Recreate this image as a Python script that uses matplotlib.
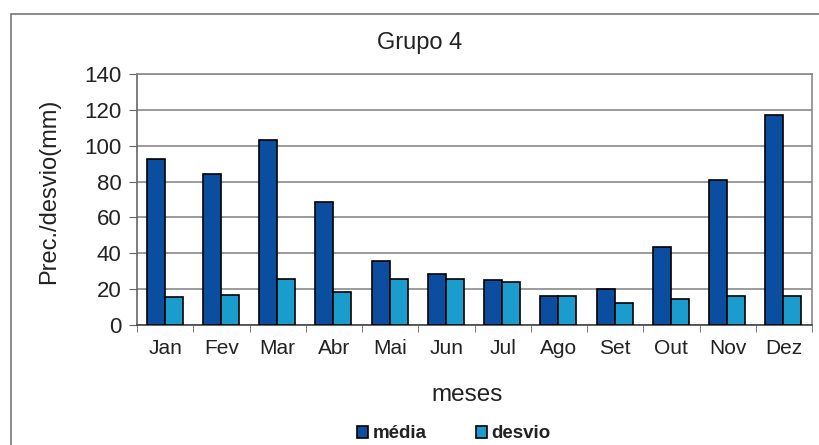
import numpy as np
import matplotlib.pyplot as plt
from matplotlib.patches import Rectangle

plt.rcParams['font.family'] = ['Liberation Sans', 'DejaVu Sans']

# dados
meses = ["Jan", "Fev", "Mar", "Abr", "Mai", "Jun", "Jul", "Ago", "Set", "Out", "Nov", "Dez"]
media = [92.5, 84, 103, 68.5, 35.5, 28.5, 25, 16, 20, 43.5, 81, 117]
desvio = [15.7, 17, 25.5, 18.2, 25.5, 25.7, 24, 16, 12, 14.4, 16.2, 16.2]

cor_media = "#0b4d9e"
cor_desvio = "#1a9dcc"
cor_texto = "#222222"

fig = plt.figure(figsize=(8.19, 4.45), dpi=100)
ax = fig.add_axes([0.1673, 0.2697, 0.8242, 0.564])

x = np.arange(len(meses))
w = 0.32
ax.bar(x - w / 2 - 0.01, media, w, color=cor_media, edgecolor="black", linewidth=1.2, label="média", zorder=3)
ax.bar(x + w / 2 - 0.01, desvio, w, color=cor_desvio, edgecolor="black", linewidth=1.2, label="desvio", zorder=3)

ax.set_xlim(-0.5, len(meses) - 0.5)
ax.set_ylim(0, 140)
ax.set_yticks(np.arange(0, 141, 20))
ax.yaxis.grid(True, color="#8a8a8a", linewidth=1.2, zorder=0)

ax.set_xticks(x)
ax.set_xticklabels(meses, fontsize=15)
ax.set_xticks(np.arange(-0.5, len(meses), 1), minor=True)
ax.tick_params(axis="x", which="major", length=0, pad=10, colors=cor_texto)
ax.tick_params(axis="x", which="minor", length=5, color="#666666")
ax.tick_params(axis="y", length=6, pad=5, labelsize=16, colors=cor_texto, color="#666666")

for s in ["top", "right"]:
    ax.spines[s].set_color("#8a8a8a")
ax.spines["left"].set_color("#666666")
ax.spines["bottom"].set_color("#444444")
for s in ax.spines.values():
    s.set_linewidth(1.2)

# titulo e rotulos posicionados como no original
fig.text(420 / 819, 1 - 43 / 445, "Grupo 4", fontsize=17, ha="center", va="center", color=cor_texto)
fig.text(467 / 819, 1 - 395 / 445, "meses", fontsize=17.5, ha="center", va="center", color=cor_texto)
fig.text(49 / 819, 1 - 191 / 445, "Prec./desvio(mm)", fontsize=17, rotation=90,
         ha="center", va="center", color=cor_texto)

leg = fig.legend(loc="center", bbox_to_anchor=(454 / 819, 1 - 434 / 445), ncol=2, frameon=False,
                 fontsize=13.5, handlelength=0.6, handleheight=0.6, columnspacing=2.6,
                 handletextpad=0.25, borderpad=0)
for t in leg.get_texts():
    t.set_fontweight("bold")
    t.set_color(cor_texto)

# moldura externa do grafico
fig.patches.append(Rectangle((11 / 819, -0.05), 1.2, 1 - 14 / 445 + 0.05,
                             transform=fig.transFigure, fill=False,
                             edgecolor="#777777", linewidth=1.2))

fig.savefig("out.png", dpi=100)
